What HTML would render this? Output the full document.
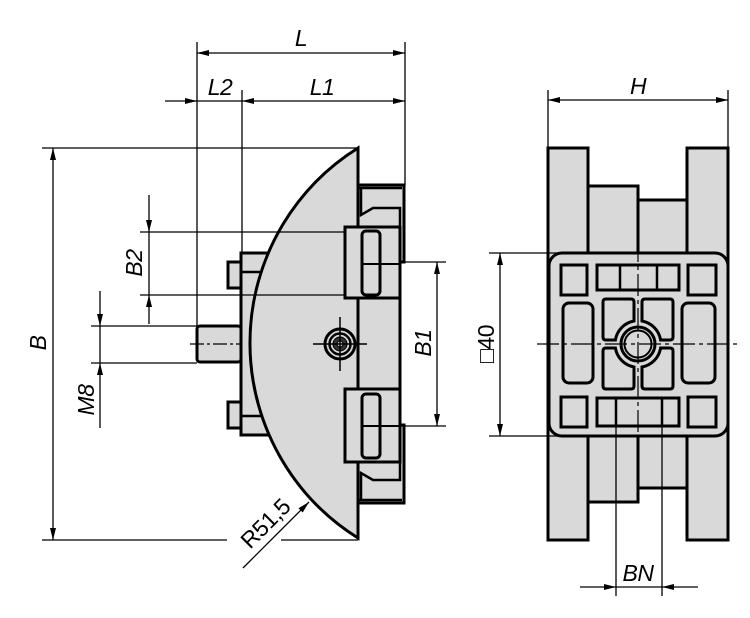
<!DOCTYPE html>
<html><head><meta charset="utf-8"><style>
html,body{margin:0;padding:0;background:#fff}
svg{display:block}
text{font-family:"Liberation Sans",sans-serif;font-size:23px;fill:#000;letter-spacing:-0.5px}
.i{font-style:italic}
</style></head><body>
<svg width="750" height="618" viewBox="0 0 750 618" xmlns="http://www.w3.org/2000/svg">
<defs>
<marker id="a" viewBox="0 0 12 6" refX="12" refY="3" markerWidth="12" markerHeight="6" orient="auto-start-reverse" markerUnits="userSpaceOnUse"><path d="M0,0 L12,3 L0,6 Z" fill="#000"/></marker>
</defs>
<g fill="#d9d9d9" stroke="#000" stroke-width="3" stroke-linejoin="miter">
<rect x="197" y="326" width="44" height="36" rx="3"/>
<rect x="228" y="262" width="14" height="26"/>
<rect x="228" y="402" width="14" height="26"/>
<rect x="241" y="253" width="60" height="182"/>
<path d="M356 185 H404 V262 H400 V425 H404 V503 H356 Z"/>
<path d="M358 148 A230 230 0 0 0 358 538 Z"/>
</g>
<g fill="none" stroke="#000" stroke-width="2.5">
<line x1="241" y1="272" x2="261" y2="272"/>
<line x1="241" y1="416" x2="261" y2="416"/>
<path d="M358 188 H402"/>
<path d="M361 188 V215 L373 208 H400 V262"/>
<path d="M358 500 H402"/>
<path d="M361 500 V473 L373 480 H400 V425"/>
</g>
<g fill="#d9d9d9" stroke="#000" stroke-width="3">
<rect x="345" y="227" width="55" height="71"/>
<rect x="345" y="389" width="55" height="73"/>
<rect x="362" y="231" width="18" height="64" rx="4"/>
<rect x="362" y="394" width="18" height="64" rx="4"/>
</g>
<line x1="362" y1="264" x2="400" y2="264" stroke="#000" stroke-width="2"/>
<line x1="362" y1="426" x2="400" y2="426" stroke="#000" stroke-width="2"/>
<g fill="none" stroke="#000">
<circle cx="340" cy="344" r="15" stroke-width="3"/>
<circle cx="340" cy="344" r="10.5" stroke-width="2.5"/>
<circle cx="340" cy="344" r="7" fill="#333" stroke-width="1"/>
<circle cx="340" cy="344" r="3" fill="#ddd" stroke-width="1"/>
<line x1="313" y1="344" x2="367" y2="344" stroke-width="1.5"/>
<line x1="340" y1="317" x2="340" y2="371" stroke-width="1.5"/>
</g>
<line x1="190" y1="344" x2="240" y2="344" stroke="#000" stroke-width="1.2" stroke-dasharray="14,3,3,3"/>

<g fill="#d9d9d9" stroke="#000" stroke-width="3">
<rect x="588" y="186" width="50" height="316"/>
<rect x="638" y="200" width="49" height="288"/>
<rect x="548" y="148" width="40" height="392"/>
<rect x="687" y="148" width="41" height="392"/>
<rect x="549" y="253" width="179" height="183" rx="13"/>
<rect x="561" y="265" width="26" height="30"/>
<rect x="688" y="265" width="28" height="30"/>
<rect x="561" y="397" width="26" height="30"/>
<rect x="688" y="397" width="28" height="30"/>
<rect x="597" y="265" width="82" height="25"/>
<rect x="597" y="398" width="82" height="28"/>
<rect x="563" y="303" width="30" height="80" rx="6"/>
<rect x="682" y="303" width="33" height="80" rx="6"/>
<g id="q"><path d="M606 299 H631 Q634 299 634 302 V321 A23 23 0 0 0 615.4 340 H606 Q603 340 603 337 V302 Q603 299 606 299 Z"/></g>
<use href="#q" transform="translate(1276,0) scale(-1,1)"/>
<use href="#q" transform="translate(0,688) scale(1,-1)"/>
<use href="#q" transform="translate(1276,688) scale(-1,-1)"/>
</g>
<g stroke="#000" stroke-width="2.5" fill="none">
<line x1="620" y1="265" x2="620" y2="290"/>
<line x1="657" y1="265" x2="657" y2="290"/>
<line x1="616" y1="398" x2="616" y2="426"/>
<line x1="662" y1="398" x2="662" y2="426"/>
<circle cx="638" cy="344" r="17" stroke-width="3"/>
<circle cx="638" cy="344" r="13.5" stroke-width="2"/>
</g>
<g stroke="#000" stroke-width="1.2" stroke-dasharray="22,4,4,4">
<line x1="537" y1="344" x2="740" y2="344"/>
<line x1="638" y1="240" x2="638" y2="450"/>
</g>

<g stroke="#000" stroke-width="1.3" fill="none">
<line x1="197" y1="42" x2="197" y2="326"/>
<line x1="405" y1="42" x2="405" y2="186"/>
<line x1="242" y1="90" x2="242" y2="253"/>
<line x1="42" y1="148" x2="358" y2="148"/>
<line x1="42" y1="540" x2="227" y2="540"/>
<line x1="281" y1="540" x2="358" y2="540"/>
<line x1="140" y1="232" x2="345" y2="232"/>
<line x1="140" y1="295" x2="345" y2="295"/>
<line x1="91" y1="326" x2="197" y2="326"/>
<line x1="91" y1="363" x2="197" y2="363"/>
<line x1="405" y1="262" x2="446" y2="262"/>
<line x1="400" y1="426" x2="446" y2="426"/>
<line x1="548" y1="90" x2="548" y2="148"/>
<line x1="728" y1="90" x2="728" y2="148"/>
<line x1="489" y1="253" x2="560" y2="253"/>
<line x1="489" y1="436" x2="560" y2="436"/>
<line x1="616" y1="426" x2="616" y2="596"/>
<line x1="662" y1="426" x2="662" y2="596"/>
<line x1="197" y1="53" x2="405" y2="53" marker-start="url(#a)" marker-end="url(#a)"/>
<line x1="165" y1="101" x2="197" y2="101" marker-end="url(#a)"/>
<line x1="197" y1="101" x2="242" y2="101"/>
<line x1="242" y1="101" x2="405" y2="101" marker-start="url(#a)" marker-end="url(#a)"/>
<line x1="53" y1="148" x2="53" y2="540" marker-start="url(#a)" marker-end="url(#a)"/>
<line x1="149" y1="195" x2="149" y2="232" marker-end="url(#a)"/>
<line x1="149" y1="232" x2="149" y2="295"/>
<line x1="149" y1="324" x2="149" y2="295" marker-end="url(#a)"/>
<line x1="100" y1="291" x2="100" y2="326" marker-end="url(#a)"/>
<line x1="100" y1="326" x2="100" y2="363"/>
<line x1="100" y1="428" x2="100" y2="363" marker-end="url(#a)"/>
<line x1="437" y1="262" x2="437" y2="426" marker-start="url(#a)" marker-end="url(#a)"/>
<line x1="548" y1="100" x2="728" y2="100" marker-start="url(#a)" marker-end="url(#a)"/>
<line x1="500" y1="253" x2="500" y2="436" marker-start="url(#a)" marker-end="url(#a)"/>
<line x1="580" y1="587" x2="616" y2="587" marker-end="url(#a)"/>
<line x1="616" y1="587" x2="662" y2="587"/>
<line x1="698" y1="587" x2="662" y2="587" marker-end="url(#a)"/>
<line x1="243" y1="568" x2="309" y2="502" marker-end="url(#a)"/>
</g>
<text class="i" x="301" y="46" text-anchor="middle">L</text>
<text class="i" x="220" y="95" text-anchor="middle">L2</text>
<text class="i" x="322" y="95" text-anchor="middle">L1</text>
<text class="i" x="638" y="94" text-anchor="middle">H</text>
<text class="i" x="638" y="581" text-anchor="middle">BN</text>
<text class="i" transform="translate(46,343) rotate(-90)" text-anchor="middle">B</text>
<text class="i" transform="translate(142,263) rotate(-90)" text-anchor="middle">B2</text>
<text class="i" transform="translate(94,400) rotate(-90)" text-anchor="middle">M8</text>
<text class="i" transform="translate(431,343) rotate(-90)" text-anchor="middle">B1</text>
<text transform="translate(494,344) rotate(-90)" text-anchor="middle">□40</text>
<text transform="translate(271,529) rotate(-45)" text-anchor="middle">R51,5</text>
</svg>
</body></html>
